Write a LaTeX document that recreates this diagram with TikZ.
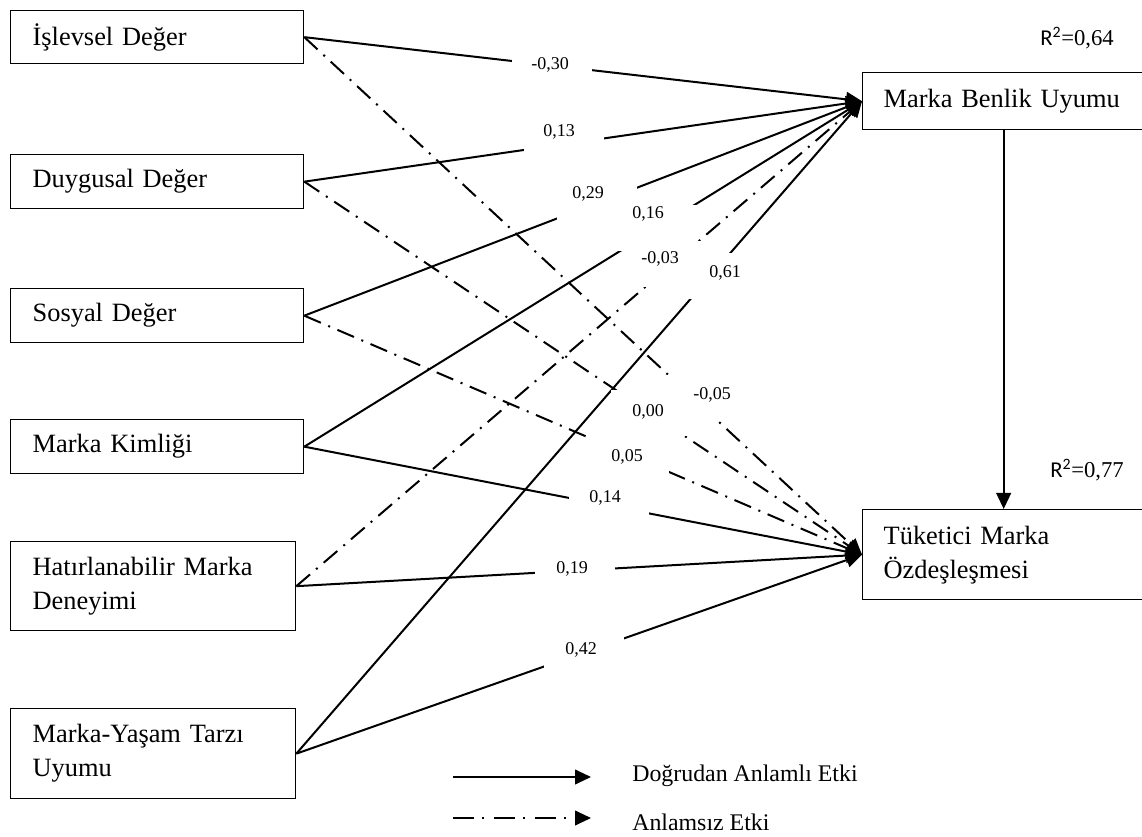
\documentclass[tikz,border=0pt]{standalone}
\usepackage{fontspec}
\setmainfont{Liberation Serif}
\newfontfamily\rfont{Carlito}
\usetikzlibrary{arrows.meta}

\newcommand\boxfont{\fontsize{19.8pt}{25.5pt}\selectfont}
\newcommand\coeffont{\fontsize{13.5pt}{16pt}\selectfont}
\newcommand\legfont{\fontsize{17.9pt}{21pt}\selectfont}
\newcommand\rsqfont{\fontsize{17pt}{20pt}\selectfont}

\begin{document}
\begin{tikzpicture}[x=0.75pt, y=-0.75pt,
  cbox/.style={draw, line width=1pt, rectangle, anchor=north west,
    inner ysep=0pt, align=left, font=\boxfont},
  lbox/.style={cbox, inner xsep=16.5pt},
  rbox/.style={cbox, inner xsep=15.75pt, minimum width=211.5pt, text width=180pt},
  tip/.style={-{Triangle[length=12pt,width=11pt]}},
  eff/.style={line width=1.5pt, tip},
  nseff/.style={line width=1.5pt, tip, dash pattern=on 13.5pt off 6pt on 1.5pt off 6pt},
  gap/.style={fill=white, inner sep=0pt, minimum width=60pt, minimum height=34.5pt},
  coef/.style={inner sep=0pt, font=\coeffont},
  rsq/.style={anchor=base west, inner sep=0pt, font=\rsqfont},
  legtext/.style={anchor=base west, inner sep=0pt, font=\legfont}]

\useasboundingbox (0,0) rectangle (1142,837);

% exogenous constructs
\node[lbox, minimum width=219.75pt, text width=186.75pt, minimum height=39.75pt] (isl) at (10,10) {İşlevsel Değer};
\node[lbox, minimum width=219.75pt, text width=186.75pt, minimum height=40.5pt] (duy) at (10,154) {Duygusal Değer};
\node[lbox, minimum width=219.75pt, text width=186.75pt, minimum height=40.5pt] (sos) at (10,288) {Sosyal Değer};
\node[lbox, minimum width=219.75pt, text width=186.75pt, minimum height=40.5pt] (mk) at (10,419) {Marka Kimliği};
\node[lbox, minimum width=213.75pt, text width=180.75pt, minimum height=66.75pt] (hat) at (10,541) {Hatırlanabilir Marka\\Deneyimi};
\node[lbox, minimum width=213.75pt, text width=180.75pt, minimum height=67.5pt] (myt) at (10,708) {Marka-Yaşam Tarzı\\Uyumu};

% endogenous constructs
\node[rbox, minimum height=42.75pt] (mbu) at (862,72) {Marka Benlik Uyumu};
\node[rbox, minimum height=67.5pt] (tme) at (862,509) {Tüketici Marka\\Özdeşleşmesi};

\node[rsq] (r1) at (1040,46) {{\rfont R\textsuperscript{2}}=0,64};
\node[rsq] (r2) at (1050,478) {{\rfont R\textsuperscript{2}}=0,77};

% paths
\draw[eff]   (isl.east) -- coordinate[pos=0.4445] (c1)  (mbu.west);
\draw[nseff] (isl.east) -- coordinate[pos=0.698]  (c2)  (tme.west);
\draw[eff]   (duy.east) -- coordinate[pos=0.465]  (c3)  (mbu.west);
\draw[nseff] (duy.east) -- coordinate[pos=0.621]  (c4)  (tme.west);
\draw[eff]   (sos.east) -- coordinate[pos=0.524]  (c5)  (mbu.west);
\draw[nseff] (sos.east) -- coordinate[pos=0.583]  (c6)  (tme.west);
\draw[eff]   (mk.east)  -- coordinate[pos=0.632]  (c7)  (mbu.west);
\draw[eff]   (mk.east)  -- coordinate[pos=0.546]  (c8)  (tme.west);
\draw[nseff] (hat.east) -- coordinate[pos=0.665]  (c9)  (mbu.west);
\draw[eff]   (hat.east) -- coordinate[pos=0.492]  (c10) (tme.west);
\draw[eff]   (myt.east) -- coordinate[pos=0.732]  (c11) (mbu.west);
\draw[eff]   (myt.east) -- coordinate[pos=0.509]  (c12) (tme.west);
\draw[eff]   (mbu.south) -- (tme.north);

% white boxes behind the coefficients
\foreach \i in {1,...,12} { \node[gap] (g\i) at (c\i) {}; }

% path coefficients
\node[coef] (k1)  at (550,65)  {-0,30};
\node[coef] (k2)  at (712,395) {-0,05};
\node[coef] (k3)  at (559,132) {0,13};
\node[coef] (k4)  at (648,412) {0,00};
\node[coef] (k5)  at (588,194) {0,29};
\node[coef] (k6)  at (627,457) {0,05};
\node[coef] (k7)  at (648,214) {0,16};
\node[coef] (k8)  at (605,498) {0,14};
\node[coef] (k9)  at (660,259) {-0,03};
\node[coef] (k10) at (572,569) {0,19};
\node[coef] (k11) at (725,273) {0,61};
\node[coef] (k12) at (581,650) {0,42};

% legend
\coordinate (l1s) at (453,777);
\coordinate (l1e) at (591,777);
\coordinate (l2s) at (453,818);
\coordinate (l2e) at (591,818);
\draw[eff] (l1s) -- (l1e);
\draw[line width=1.5pt, tip, dash pattern=on 15.75pt off 6pt on 1.5pt off 7.5pt] (l2s) -- (l2e);
\node[legtext] (lt1) at (632,781) {Doğrudan Anlamlı Etki};
\node[legtext] (lt2) at (632,830) {Anlamsız Etki};
\end{tikzpicture}
\end{document}
